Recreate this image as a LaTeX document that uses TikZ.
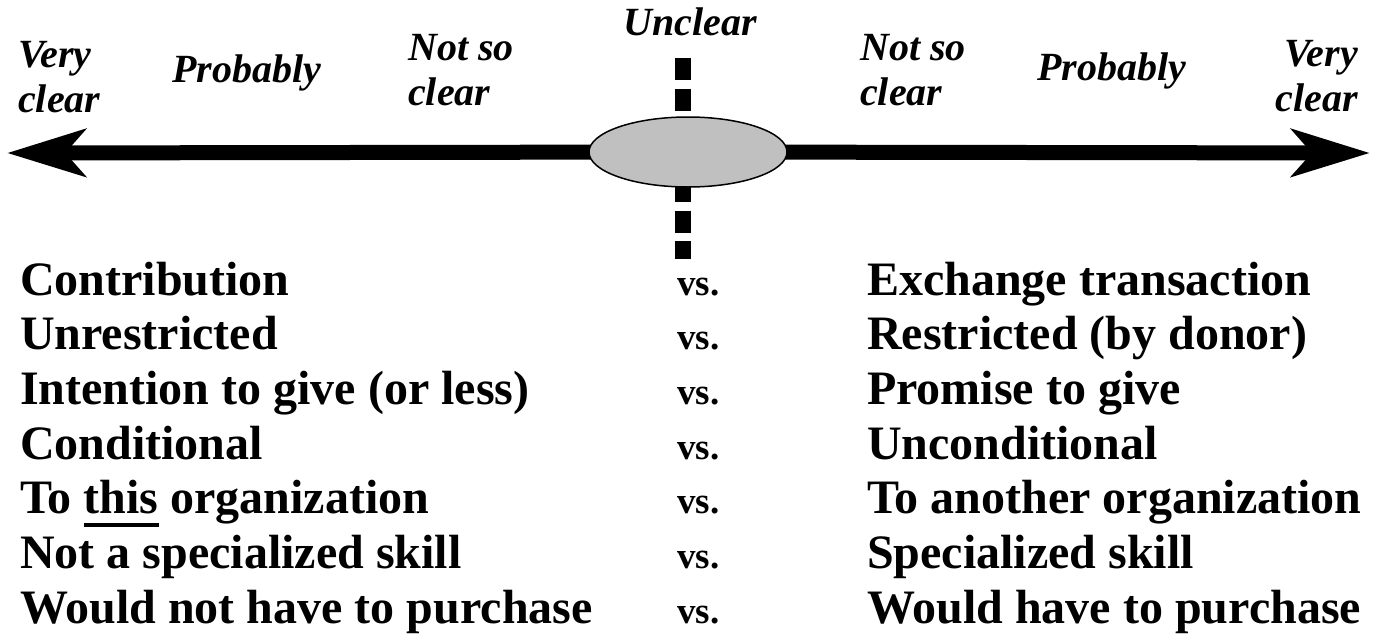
\documentclass[tikz,border=0pt]{standalone}
\usepackage{fontspec}
\setmainfont{Liberation Serif}
\usetikzlibrary{arrows.meta,backgrounds,shapes.geometric}
\newcommand\thickul[1]{\setbox0\hbox{#1}\rlap{\rule[-13pt]{\wd0}{4pt}}\box0\relax}
\begin{document}
\begin{tikzpicture}[x=1pt,y=-1pt,
  lbl/.style={inner sep=0pt, font=\fontsize{40}{45}\selectfont\bfseries\itshape},
  item/.style={inner sep=0pt, anchor=base west, font=\fontsize{48}{56}\selectfont\bfseries},
  versus/.style={inner sep=0pt, anchor=base west, font=\fontsize{37}{44}\selectfont\bfseries},
  axis/.style={line width=15pt, -{Stealth[length=78pt,width=47pt,inset=20pt]}},
  divider/.style={line width=16pt, dash pattern=on 22pt off 8.5pt},
  blob/.style={ellipse, draw=black, line width=1.5pt, fill={rgb,255:red,192;green,192;blue,192}, minimum width=198pt, minimum height=70pt, inner sep=0pt}]
\useasboundingbox (0,0) rectangle (1378,640);

% scale labels (base anchor = baseline of the last line)
\node[lbl, anchor=base west, align=left] (vl) at (18,112) {Very\\clear};
\node[lbl, anchor=base west] (pl) at (172,82) {Probably};
\node[lbl, anchor=base west, align=left] (nl) at (408,105) {Not so\\clear};
\node[lbl, anchor=base] (uc) at (690,35) {Unclear};
\node[lbl, anchor=base west, align=left] (nr) at (860,105) {Not so\\clear};
\node[lbl, anchor=base west] (pr) at (1037,80) {Probably};
\node[lbl, anchor=base east, align=right] (vr) at (1358,111) {Very\\clear};

% axis
\node[blob] (mid) at (688,152) {};
\coordinate (ltip) at (7,153);
\coordinate (rtip) at (1370,153);
\coordinate (dtop) at (683,58);
\coordinate (dbot) at (683,259);
\begin{pgfonlayer}{background}
  \draw[divider] (dtop) -- (dbot);
  \draw[axis] (mid.center) -- (ltip);
  \draw[axis] (mid.center) -- (rtip);
\end{pgfonlayer}

% rows
\node[item] (a1) at (20,295) {Contribution};
\node[item] (a2) at (20,349.7) {Unrestricted};
\node[item] (a3) at (20,404.3) {Intention to give (or less)};
\node[item] (a4) at (20,459) {Conditional};
\node[item] (a5) at (20,513.7) {To \thickul{this} organization};
\node[item] (a6) at (20,568.3) {Not a specialized skill};
\node[item] (a7) at (20,623) {Would not have to purchase};

\node[versus] (v1) at (677,295) {vs.};
\node[versus] (v2) at (677,349.7) {vs.};
\node[versus] (v3) at (677,404.3) {vs.};
\node[versus] (v4) at (677,459) {vs.};
\node[versus] (v5) at (677,513.7) {vs.};
\node[versus] (v6) at (677,568.3) {vs.};
\node[versus] (v7) at (677,623) {vs.};

\node[item] (b1) at (867,295) {Exchange transaction};
\node[item] (b2) at (867,349.7) {Restricted (by donor)};
\node[item] (b3) at (867,404.3) {Promise to give};
\node[item] (b4) at (867,459) {Unconditional};
\node[item] (b5) at (867,513.7) {To another organization};
\node[item] (b6) at (867,568.3) {Specialized skill};
\node[item] (b7) at (867,623) {Would have to purchase};
\end{tikzpicture}
\end{document}
